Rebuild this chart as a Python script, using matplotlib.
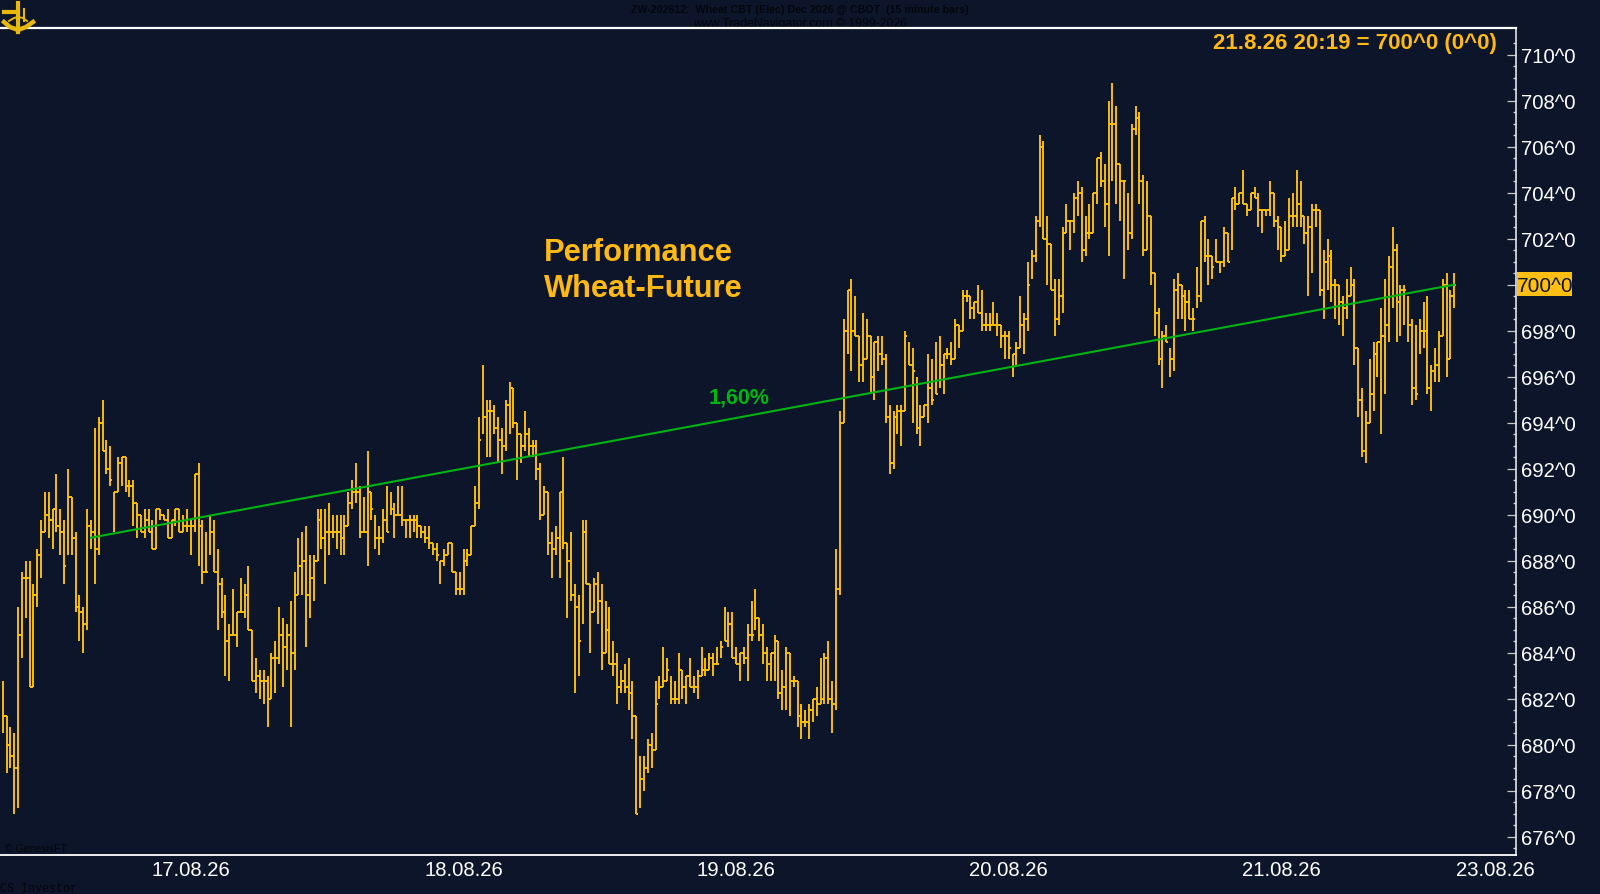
# Wheat future (ZW Dec 2026) 15 minute bars with performance line
import matplotlib
matplotlib.use('Agg')
import matplotlib.pyplot as plt
from matplotlib.lines import Line2D
from matplotlib.patches import Rectangle

plt.rcParams['font.family'] = ['Liberation Sans', 'DejaVu Sans']

W, H = 1600, 895
BG = '#0c152a'
GOLD = '#ffc20e'
GREEN = '#00b414'

high_prices = [
    682.75, 681.25, 680.75, 680.5, 686, 687.5, 688, 688, 687, 688.5, 689.75, 691, 691,
    690.25, 691.75, 690.25, 689.75, 692, 690.75, 689.25, 686.5, 686, 690.25, 689.75, 693.75, 694.25,
    695, 693.25, 693, 691, 692.5, 692.5, 692.5, 691.5, 691.5, 690.5, 690, 690.25, 690.25,
    689.75, 690.25, 690.25, 690, 690.25, 689.75, 690.25, 690.25, 690, 690.25, 689.75, 691.75, 692.25,
    689.75, 689.25, 690, 689.75, 688.5, 687.25, 686.5, 685.25, 686.75, 685.75, 687.25, 687, 687.75,
    685, 683.75, 683.25, 683.25, 683, 684, 684.5, 686, 685.5, 685.25, 686.25, 687.5, 689,
    # 78
    689.25, 689.5, 688.25, 688.25, 690.25, 690.25, 690.25, 690.5, 690, 690, 690, 690, 691,
    691.5, 692.25, 691.25, 690.75, 692.75, 691, 690, 689.5, 690.25, 691.25, 691, 690.5, 691.25,
    691.25, 689.75, 690, 690, 690, 689.5, 689.5, 689.5, 688.75, 688.75, 688, 688.5, 688.75,
    688.75, 687.5, 687.5, 688.5, 688.5, 689.5, 691.25, 694.25, 696.5, 695, 695, 694.75, 694.25,
    693.75, 695, 695.75, 695.5, 694, 693.5, 694.5, 693.75, 693.25, 693.25, 692.25, 691.25, 691,
    689.25, 689.5, 691, 692.5, 688.75,
    # 148
    689.25, 687, 686.5, 689.75, 689.75, 687, 687.25, 687.5, 687, 686.25, 686, 684.5, 684,
    683.25, 683.5, 683.75, 682.75, 681.25, 679.5, 679.5, 680.25, 680.5, 682.75, 683, 684.25, 683.75,
    683, 682.75, 684, 683.25, 683, 683.75, 683, 683.25, 684.25, 683.75, 684, 684, 684.25,
    684.5, 686, 685.75, 685.75, 684.25, 684, 684.25, 685.25, 686.25, 686.75, 685.5, 685.25, 684.25,
    684, 684.75, 684.5, 683.25, 684.25, 684, 683, 682.75, 681.75, 681.5, 681.75, 682, 682.5,
    683.75, 684, 684.5, 682.75, 688.5,
    # 218
    694.5, 698.5, 699.75, 700.25, 699.5, 697.75, 698.75, 698.5, 697.75, 697.5, 697.75, 697.75, 697,
    694.75, 694.5, 694.75, 694.75, 698, 697.5, 697.25, 696, 694.75, 694.75, 697, 696.75, 697.5,
    697.75, 697, 697.25, 697.5, 698.5, 698.25, 699.75, 699.75, 699.5, 699.25, 700, 699.75, 698.75,
    698.75, 699.25, 698.75, 698.25, 698, 698, 697, 697.5, 699.5, 698.75, 701,
    # 268
    701.5, 703, 706.5, 706.25, 703, 701.75, 700.25, 700.25, 702.5, 703.5, 702.75, 704, 704.5,
    704.25, 703, 703.5, 704, 705.5, 705.75, 705.25, 708, 708.75, 707.75, 705.25, 704.5, 704,
    707, 707.75, 707.5, 704.75, 704.5, 703, 700.5, 699, 698, 698.25, 697.25, 700.25, 700.5,
    700, 699.75, 699.75, 699, 700.75, 702.75, 703, 702, 701.25, 702, 701, 702.5, 702.25,
    703.75, 704.25, 704, 705, 703.5, 704, 704.25, 704, 703.25, 703.25, 704.5, 704, 703,
    702.5, 702.75, 703.75, 704, 705, 704.5,
    # 339
    703, 703, 703.5, 703.5, 703.25, 701.5, 702, 701.5, 700.25, 700, 699.5, 700.25, 700.75,
    700.25, 697.25, 695.5, 694.5, 696.75, 697.5, 697.5, 699, 700.25, 701.25, 702.5, 701.75, 700,
    700, 699.5, 698.5, 698.25, 698.5, 699.25, 699.5, 696.5, 697.25, 698, 700.25, 700.5, 699.75,
    700.5,
]

low_prices = [
    680.5, 678.75, 679, 677, 677.25, 683.75, 685.5, 682.5, 682.5, 686, 687.25, 689.25, 689,
    688.5, 689.25, 688.25, 687, 688.25, 688.25, 685.75, 684.5, 684, 685, 688.5, 687, 688.25,
    692.75, 691.75, 691.25, 689.25, 691, 691.25, 691, 690.75, 689.5, 689, 689.25, 689, 689.25,
    688.5, 688.5, 689.75, 689.75, 689, 689, 689.5, 689.25, 689.25, 689.25, 688.25, 689.25, 687.75,
    687, 687.5, 688.25, 687.5, 685, 685.5, 683, 682.75, 684.75, 684.25, 685.75, 685.5, 685,
    682.75, 682.25, 682, 681.75, 680.75, 682, 682.25, 683.5, 682.5, 683.25, 680.75, 683.25, 686.5,
    # 78
    686.5, 684.25, 685.5, 686.25, 688, 688.5, 687, 688.25, 689, 688.5, 688.25, 688.25, 689.5,
    690.25, 690.5, 689, 689.25, 687.75, 689.75, 688.5, 688.25, 688.75, 689.25, 690, 689, 690,
    689.5, 689, 689, 689.25, 689, 689, 688.75, 688.5, 688.25, 688, 687, 687.75, 688.25,
    687.5, 686.5, 686.5, 686.5, 687.75, 688.25, 689.5, 690.25, 693.5, 692.5, 692.5, 693.5, 692.25,
    691.75, 692.75, 693.5, 693.75, 691.5, 692.25, 692.75, 692.5, 692.5, 691.5, 689.75, 690, 688.25,
    687.25, 688.25, 687.25, 688.5, 685.5,
    # 148
    686.25, 682.25, 683, 685.25, 687, 684, 685.75, 685.25, 683.25, 684, 683.5, 683, 681.75,
    682.25, 682.25, 681.5, 680.25, 677, 677.25, 678, 678.75, 679, 679.75, 682, 682.5, 682.75,
    681.75, 681.75, 681.75, 682, 681.75, 682.5, 682.25, 682, 683, 683, 683.25, 683, 683.5,
    683.75, 684.5, 684.25, 683.75, 683.5, 682.75, 683.5, 682.75, 684.5, 685, 684.5, 683.5, 682.75,
    682.75, 682.75, 682, 681.5, 681.5, 681.25, 682.5, 680.75, 680.25, 680.75, 680.25, 681, 681.25,
    681.75, 681.75, 681.75, 680.5, 681.5,
    # 218
    686.5, 694, 697, 696.25, 697.75, 695.75, 695.75, 696.75, 695.25, 695, 696.25, 696.5, 694,
    691.75, 692, 693.5, 693, 694.5, 696.5, 694, 693.5, 693, 694.25, 694, 694.75, 695.25,
    695.5, 695.25, 696.75, 696.5, 696.75, 697.25, 698, 699.25, 698.5, 698.5, 698.75, 698, 698,
    698, 698.25, 697.75, 697.25, 696.75, 696.75, 696, 696.5, 697.25, 697, 698,
    # 268
    700.25, 701, 702.5, 702, 700, 699.75, 697.75, 698.25, 698.75, 702.25, 701.5, 702.25, 703,
    701, 701.25, 702, 702.25, 703.5, 704.25, 702.5, 701.25, 704.5, 703.5, 702.75, 700.25, 701.5,
    702, 706.5, 703.5, 701.25, 701.5, 700, 697.75, 696.5, 695.5, 697.5, 696, 696.25, 698.5,
    698.5, 698, 698.5, 698, 699, 699.25, 701, 700, 700.25, 701, 700.5, 700.75, 701,
    701.5, 703.25, 703.5, 703.5, 703, 703.25, 703.75, 702.5, 702.25, 703, 703, 702.5, 701.5,
    701, 701.25, 701.5, 702.5, 702.5, 702.5,
    # 339
    701.75, 699.5, 700.5, 702.5, 699.5, 698.5, 699.75, 699.25, 698.5, 698.25, 697.75, 698.5, 699.5,
    696.5, 694.25, 692.5, 692.25, 694, 694.5, 696, 693.5, 695.25, 697.5, 699, 697.5, 697.75,
    698.25, 697.5, 694.75, 695, 697, 697.25, 695.25, 694.5, 695.75, 695.75, 697.75, 696, 696.75,
    699,
]

close_prices = [
    681.25, 680, 679.5, 679, 684.75, 687.25, 687.25, 682.5, 686.5, 688.25, 689.25, 690, 689.75,
    690.25, 689.5, 689.25, 687.75, 690.75, 689, 686, 685.75, 685.25, 689.5, 689.25, 688.5, 694,
    692.75, 692, 691.5, 691, 692.25, 692.5, 691.25, 691.25, 690.5, 690, 689.25, 689.75, 689.25,
    688.5, 690.25, 690, 689.75, 689, 689.75, 690.25, 689.25, 689.5, 689.5, 689.5, 691.75, 689.5,
    687.5, 687.5, 689.25, 687.5, 687, 685.75, 684.5, 684.75, 684.75, 685.75, 685.75, 686.5, 685,
    682.75, 683, 682.75, 682.75, 682, 683.75, 683.75, 684.75, 684.25, 684.75, 684, 686.5, 687.75,
    # 78
    688, 686.5, 687.25, 688, 689.75, 689, 689.25, 689.25, 689.25, 689.25, 689, 689.5, 690.5,
    691, 691, 689.25, 689.25, 691, 690.25, 689, 689, 689.75, 689.25, 690.25, 690, 690,
    689.75, 689.75, 689.75, 689.75, 689.5, 689.25, 689, 688.75, 688.5, 688.25, 688, 688.25, 688.75,
    687.5, 686.75, 686.75, 688, 688.25, 689.5, 690.5, 693.25, 694.25, 694.5, 694.5, 693.75, 693.25,
    693, 694.75, 695.5, 694, 693.5, 693, 693.5, 693, 693, 692, 690, 691, 688.75,
    688.5, 689, 691, 688.75, 688,
    # 148
    686.5, 686, 684.5, 689.25, 687, 685.75, 687, 686.25, 684, 685, 683.5, 683.5, 682.5,
    682.75, 682.5, 682.25, 681.25, 677, 678.5, 679, 680, 679.75, 681.75, 682.5, 682.75, 683.25,
    682, 682, 683.25, 682.5, 683, 682.5, 682.5, 683, 683.25, 683.25, 683.75, 683.5, 683.5,
    684.25, 684.5, 685.25, 683.75, 683.5, 684, 683.75, 684.75, 684.75, 685.5, 684.75, 684, 683.5,
    684, 684.5, 682.25, 682.5, 684, 682.75, 682.75, 681.25, 681, 681, 681.5, 682, 681.75,
    682, 683.75, 682, 681.75, 686.75,
    # 218
    694, 698, 699.75, 698, 697.75, 696.5, 696.75, 697.75, 696, 697.5, 697, 696.75, 694.25,
    692.25, 694.25, 694.5, 694.5, 697.75, 696.5, 696.25, 693.75, 694.25, 694.75, 695.5, 695, 695.25,
    696.5, 697, 697, 696.75, 698.25, 698, 699.5, 699.5, 699, 699.25, 698.75, 698.25, 698.25,
    698.25, 698.25, 698.25, 697.75, 697.75, 697.25, 697, 697.25, 698.25, 698.5, 700,
    # 268
    701.25, 702.75, 706, 702, 701.75, 699.75, 698.5, 699.5, 702.25, 702.75, 702.75, 703.75, 704,
    701.5, 702.25, 702.25, 704, 705.5, 704.5, 703.5, 707, 707, 705.25, 704.5, 704.5, 702.25,
    706.75, 707.25, 704.5, 701.5, 703, 700.5, 698.75, 696.75, 697.75, 697.5, 696.75, 699.75, 700,
    699.5, 699.25, 698.5, 698.5, 699.5, 702.75, 701.25, 701.25, 700.75, 701, 701, 702.25, 701,
    703.75, 703.5, 704, 703.5, 703.25, 704, 703.75, 703.25, 703.25, 703.25, 704, 702.75, 702.5,
    701.25, 701.5, 703, 703, 703.5, 703,
    # 339
    702.25, 702.5, 703.25, 703.25, 699.75, 701, 701.25, 700, 700, 699.25, 699, 699.5, 700,
    697.25, 695, 692.75, 694, 695.25, 697, 697.5, 697.75, 698.25, 700.75, 701.5, 699.25, 699.75,
    699.75, 698.25, 695.5, 695.25, 698, 698, 695.5, 696.25, 696.5, 697.75, 700, 696.75, 699.5,
    700,
]
assert len(high_prices) == len(low_prices) == len(close_prices), (
    len(high_prices), len(low_prices), len(close_prices))

trend_bars = [23, 378]
trend_prices = [689, 700]

price_ticks = list(range(676, 712, 2))
minor_ticks = [p + 0.5 * k for p in range(675, 711) for k in (0, 1) if (p + 0.5 * k) % 2 != 0]
date_positions = [49, 120, 191, 262, 333, 388.7]
date_labels = ['17.08.26', '18.08.26', '19.08.26', '20.08.26', '21.08.26', '23.08.26']


def fx(x):
    return x / W


def fy(y):
    return 1 - y / H


fig = plt.figure(figsize=(W / 100, H / 100), dpi=100, facecolor=BG)

# nearly invisible header, sits behind the axes so the white rule cuts it
fig.text(fx(800), fy(10), 'ZW-202612:  Wheat CBT (Elec) Dec 2026 @ CBOT  (15 minute bars)',
         color='#04060c', fontsize=7.7, fontweight='bold', ha='center', va='center', zorder=-1)
fig.text(fx(800), fy(24), 'www.TradeNavigator.com \u00a9 1999-2026',
         color='#04060c', fontsize=8.8, ha='center', va='center', zorder=-1)
fig.text(fx(0), fy(889), 'CS Investor', color='#04060c', fontsize=8.4, family='Liberation Mono',
         ha='left', va='center')

ax = fig.add_axes([0, fy(855.7), fx(1515.7), fy(29) - fy(855.7)], facecolor=BG)

bars = range(len(high_prices))
bar_lw = 1.35
ax.vlines(bars, low_prices, high_prices, color=GOLD, lw=bar_lw, zorder=2)
ax.hlines(close_prices, bars, [b + 0.55 for b in bars], color=GOLD, lw=bar_lw, zorder=2)

# left tick only where last close falls inside the bar
for b in bars:
    if b == 0:
        continue
    prev = close_prices[b - 1]
    if low_prices[b] <= prev <= high_prices[b]:
        ax.hlines(prev, b - 0.55, b, color=GOLD, lw=bar_lw, zorder=2)

ax.plot(trend_bars, trend_prices, color=GREEN, lw=1.5, zorder=3)

ax.text(191.7, 695.1, '1,60%', color=GREEN, fontsize=15.5, fontweight='bold',
        ha='center', va='center')
fig.text(fx(544), fy(253), 'Performance', color='#ffb914', fontsize=22.2, fontweight='bold',
         ha='left', va='center')
fig.text(fx(544), fy(289), 'Wheat-Future', color='#ffb914', fontsize=22.2, fontweight='bold',
         ha='left', va='center')
fig.text(fx(1497), fy(43), '21.8.26 20:19 = 700^0 (0^0)', color='#ffb914', fontsize=16,
         fontweight='bold', ha='right', va='center')
fig.text(fx(5), fy(849), '\u00a9 GenesisFT', color='#04060c', fontsize=7.6, ha='left', va='center')

ax.spines['left'].set_visible(False)
ax.spines['top'].set_color('white')
ax.spines['top'].set_linewidth(1.6)
ax.spines['bottom'].set_color('white')
ax.spines['bottom'].set_linewidth(1.3)
ax.spines['right'].set_color('#e4e4e4')
ax.spines['right'].set_linewidth(1.2)

ax.yaxis.tick_right()
ax.set_yticks(price_ticks)
ax.set_yticklabels(['' if p == 700 else f'{p}^0' for p in price_ticks])
ax.set_yticks(minor_ticks, minor=True)
ax.tick_params(axis='y', which='major', direction='in', length=6.5, width=0.9, color='#c8c8c8',
               labelcolor='white', labelsize=14.6, pad=3.5)
ax.tick_params(axis='y', which='minor', direction='in', length=2.4, width=1.0, color='#c8ccd2')
ax.set_xticks(date_positions)
ax.set_xticklabels(date_labels)
ax.tick_params(axis='x', length=0, labelcolor='white', labelsize=14.6, pad=3.8)

# set the limits last, set_yticks would widen them otherwise
ax.set_xlim(-0.7, 394.0)
ax.set_ylim(675.217, 711.16)

# current price tag
fig.add_artist(Rectangle((fx(1516.5), fy(297)), fx(55), fy(273) - fy(297), transform=fig.transFigure,
                         facecolor='#ffbe12', edgecolor='none', zorder=5))
fig.text(fx(1517), fy(286), '700^0', color='#0c152a', fontsize=15, ha='left', va='center', zorder=6)

# sextant logo, top left
logo = '#e8b90c'
for xs, ys, lw in [([18, 18], [4, 33], 3.0), ([4, 18], [13, 13], 3.0), ([24, 24], [10, 22], 1.5)]:
    fig.add_artist(Line2D([fx(x) for x in xs], [fy(y) for y in ys], color=logo, lw=lw,
                          transform=fig.transFigure, zorder=7))
fig.add_artist(Line2D([fx(x) for x in (4, 10, 18, 26, 33)], [fy(y) for y in (23, 28, 31, 28, 23)],
                      color=logo, lw=3.2, transform=fig.transFigure, zorder=7))
fig.add_artist(Line2D([fx(x) for x in (9, 14, 18, 23, 27)], [fy(y) for y in (22, 19, 18, 19, 22)],
                      color=logo, lw=1.4, transform=fig.transFigure, zorder=7))

fig.savefig('out.png', dpi=100, facecolor=BG)
